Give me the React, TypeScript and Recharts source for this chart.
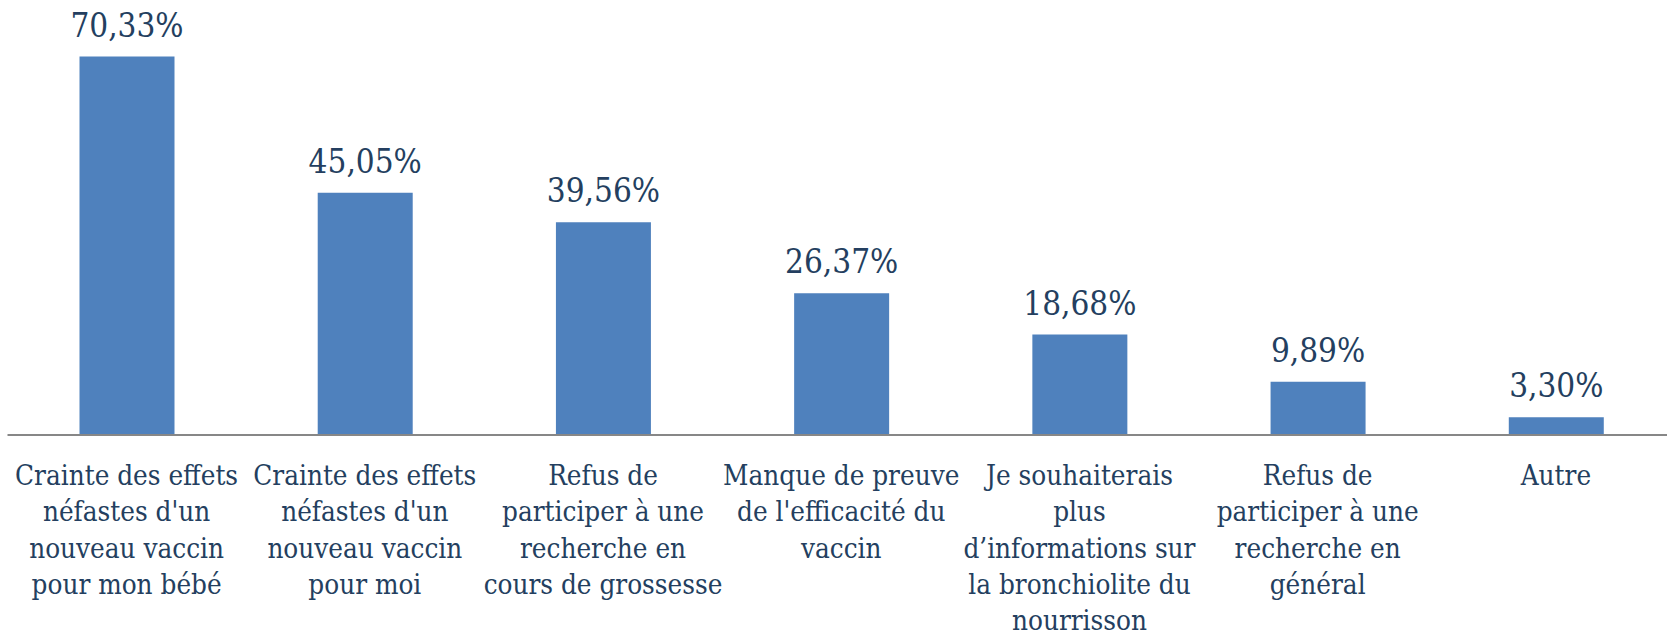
import { BarChart, Bar, XAxis, YAxis, LabelList } from 'recharts';

const categories = [
  "Crainte des effets\nnéfastes d'un\nnouveau vaccin\npour mon bébé",
  "Crainte des effets\nnéfastes d'un\nnouveau vaccin\npour moi",
  'Refus de\nparticiper à une\nrecherche en\ncours de grossesse',
  "Manque de preuve\nde l'efficacité du\nvaccin",
  'Je souhaiterais\nplus\nd’informations sur\nla bronchiolite du\nnourrisson',
  'Refus de\nparticiper à une\nrecherche en\ngénéral',
  'Autre',
];

const percentages = [70.33, 45.05, 39.56, 26.37, 18.68, 9.89, 3.3];

const data = categories.map((name, i) => ({ name, value: percentages[i] }));

const TEXT_COLOR = '#243F60';
const SERIF = "'DejaVu Serif Condensed', 'DejaVu Serif', serif";

const CategoryTick = (props: any) => {
  const { x, y, payload } = props;
  const lines = String(payload.value).split('\n');
  return (
    <text
      x={x}
      y={y}
      textAnchor="middle"
      fill={TEXT_COLOR}
      style={{ fontFamily: SERIF, fontSize: 27.6 }}
    >
      {lines.map((line, i) => (
        <tspan key={i} x={x} dy={i === 0 ? 48 : 36.3}>
          {line}
        </tspan>
      ))}
    </text>
  );
};

const ValueLabel = (props: any) => {
  const { x, y, width, value } = props;
  const text = Number(value).toFixed(2).replace('.', ',') + '%';
  return (
    <text
      x={x + width / 2}
      y={y - 20}
      textAnchor="middle"
      fill={TEXT_COLOR}
      style={{ fontFamily: SERIF, fontSize: 33 }}
    >
      {text}
    </text>
  );
};

export default function App() {
  return (
    <div
      style={{
        position: 'absolute',
        left: 0,
        top: 0,
        width: 1667,
        height: 636,
        overflow: 'hidden',
        background: '#fff',
      }}
    >
      <BarChart
        width={1675}
        height={636}
        data={data}
        margin={{ top: 4.6, right: 0, left: 7.5, bottom: 0 }}
      >
        <XAxis
          dataKey="name"
          height={201}
          interval={0}
          tickSize={0}
          tickLine={false}
          axisLine={{ stroke: '#878787', strokeWidth: 2 }}
          tick={<CategoryTick />}
        />
        <YAxis hide domain={[0, 80]} />
        <Bar dataKey="value" fill="#4F81BD" barSize={95} isAnimationActive={false}>
          <LabelList dataKey="value" content={<ValueLabel />} />
        </Bar>
      </BarChart>
    </div>
  );
}
